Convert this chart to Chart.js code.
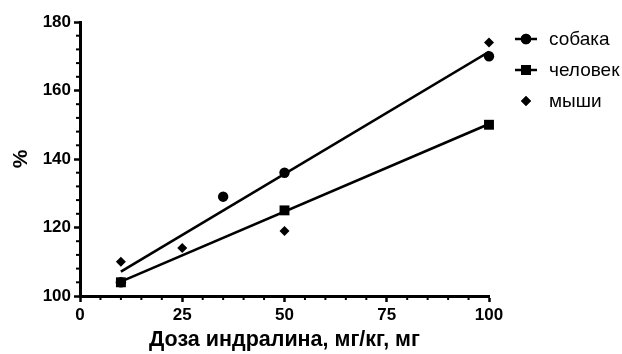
<!DOCTYPE html>
<html lang="ru">
<head>
    <meta charset="UTF-8">
    <title>Доза индралина</title>
    <script src="https://cdn.jsdelivr.net/npm/chart.js"></script>
    <style>
        html, body { margin: 0; padding: 0; background: #ffffff; }
        #wrap { width: 622px; height: 354px; position: relative; }
    </style>
</head>
<body>
<div id="wrap"><canvas id="doseChart" width="622" height="354"></canvas></div>

<script>
    // data
    const seriesNames = ['собака', 'человек', 'мыши'];

    const dogX = [10, 35, 50, 100];
    const dogY = [104, 129, 136, 170];

    const humanX = [10, 50, 100];
    const humanY = [104, 125, 150];

    const miceX = [10, 25, 50, 100];
    const miceY = [110, 114, 119, 174];

    // fitted lines (end points as drawn)
    const dogFitX = [10, 100];
    const dogFitY = [107.1, 171.3];
    const humanFitX = [10, 100];
    const humanFitY = [104.2, 150.2];

    const xTicks = [0, 25, 50, 75, 100];
    const yTicks = [100, 120, 140, 160, 180];

    const FONT = "'Liberation Sans', Arial, sans-serif";

    function pts(xs, ys) {
        return xs.map((x, i) => ({ x: x, y: ys[i] }));
    }

    // minor ticks + custom legend
    const extrasPlugin = {
        id: 'extras',
        afterDraw(chart) {
            const ctx = chart.ctx;
            const xs = chart.scales.x, ys = chart.scales.y;
            const x0 = xs.left, y0 = ys.bottom;
            ctx.save();
            ctx.strokeStyle = '#000';
            ctx.lineWidth = 2;
            for (let v = 5; v < 100; v += 5) {
                if (v % 25 === 0) continue;
                const px = xs.getPixelForValue(v);
                ctx.beginPath();
                ctx.moveTo(px, y0);
                ctx.lineTo(px, y0 + 4);
                ctx.stroke();
            }
            for (let v = 104; v < 180; v += 4) {
                if (v % 20 === 0) continue;
                const py = ys.getPixelForValue(v);
                ctx.beginPath();
                ctx.moveTo(x0, py);
                ctx.lineTo(x0 - 4, py);
                ctx.stroke();
            }

            // legend
            const rows = [39, 70, 101];
            const styles = ['circle', 'rect', 'rectRot'];
            const radii = [5.2, 7, 5];
            const lines = [true, true, false];
            ctx.font = '19px ' + FONT;
            ctx.fillStyle = '#000';
            ctx.textBaseline = 'middle';
            rows.forEach((y, i) => {
                if (lines[i]) {
                    ctx.lineWidth = 2.5;
                    ctx.beginPath();
                    ctx.moveTo(515, y);
                    ctx.lineTo(537, y);
                    ctx.stroke();
                }
                Chart.helpers.drawPoint(ctx, { pointStyle: styles[i], radius: radii[i], rotation: 0, borderWidth: 0 }, 526, y);
                ctx.fill();
                ctx.fillText(seriesNames[i], 549, y + 1);
            });
            ctx.restore();
        }
    };

    const markerDefaults = {
        showLine: false,
        clip: false,
        backgroundColor: '#000',
        borderColor: '#000',
        pointBorderWidth: 0
    };

    new Chart(document.getElementById('doseChart'), {
        type: 'scatter',
        data: {
            datasets: [
                {
                    label: 'fit1',
                    data: pts(dogFitX, dogFitY),
                    showLine: true,
                    borderColor: '#000',
                    borderWidth: 2.6,
                    pointRadius: 0
                },
                {
                    label: 'fit2',
                    data: pts(humanFitX, humanFitY),
                    showLine: true,
                    borderColor: '#000',
                    borderWidth: 2.6,
                    pointRadius: 0
                },
                Object.assign({ label: seriesNames[0], data: pts(dogX, dogY), pointStyle: 'circle', pointRadius: 5.2 }, markerDefaults),
                Object.assign({ label: seriesNames[1], data: pts(humanX, humanY), pointStyle: 'rect', pointRadius: 7 }, markerDefaults),
                Object.assign({ label: seriesNames[2], data: pts(miceX, miceY), pointStyle: 'rectRot', pointRadius: 5 }, markerDefaults)
            ]
        },
        options: {
            responsive: false,
            animation: false,
            layout: { padding: { top: 22, right: 133, left: 0, bottom: 0 } },
            plugins: {
                legend: { display: false },
                tooltip: { enabled: false }
            },
            scales: {
                x: {
                    type: 'linear',
                    min: 0,
                    max: 100,
                    afterFit: s => { s.height = 58; },
                    afterBuildTicks: s => { s.ticks = xTicks.map(v => ({ value: v })); },
                    border: { display: true, color: '#000', width: 3 },
                    grid: { drawOnChartArea: false, drawTicks: true, tickLength: 6, tickWidth: 2.5, tickColor: '#000' },
                    ticks: { color: '#000', padding: 3, maxRotation: 0, font: { family: FONT, size: 17, weight: 'bold' } },
                    title: {
                        display: true,
                        text: 'Доза индралина, мг/кг, мг',
                        color: '#000',
                        padding: { top: 4, bottom: 1 },
                        font: { family: FONT, size: 21.5, weight: 'bold' }
                    }
                },
                y: {
                    type: 'linear',
                    min: 100,
                    max: 180,
                    afterFit: s => { s.width = 80; },
                    afterBuildTicks: s => { s.ticks = yTicks.map(v => ({ value: v })); },
                    border: { display: true, color: '#000', width: 3 },
                    grid: { drawOnChartArea: false, drawTicks: true, tickLength: 6, tickWidth: 2.5, tickColor: '#000' },
                    ticks: { color: '#000', padding: 3, font: { family: FONT, size: 17, weight: 'bold' } },
                    title: {
                        display: true,
                        text: '%',
                        color: '#000',
                        padding: { top: 9, bottom: 0 },
                        font: { family: FONT, size: 21, weight: 'bold' }
                    }
                }
            }
        },
        plugins: [extrasPlugin]
    });
</script>
</body>
</html>
